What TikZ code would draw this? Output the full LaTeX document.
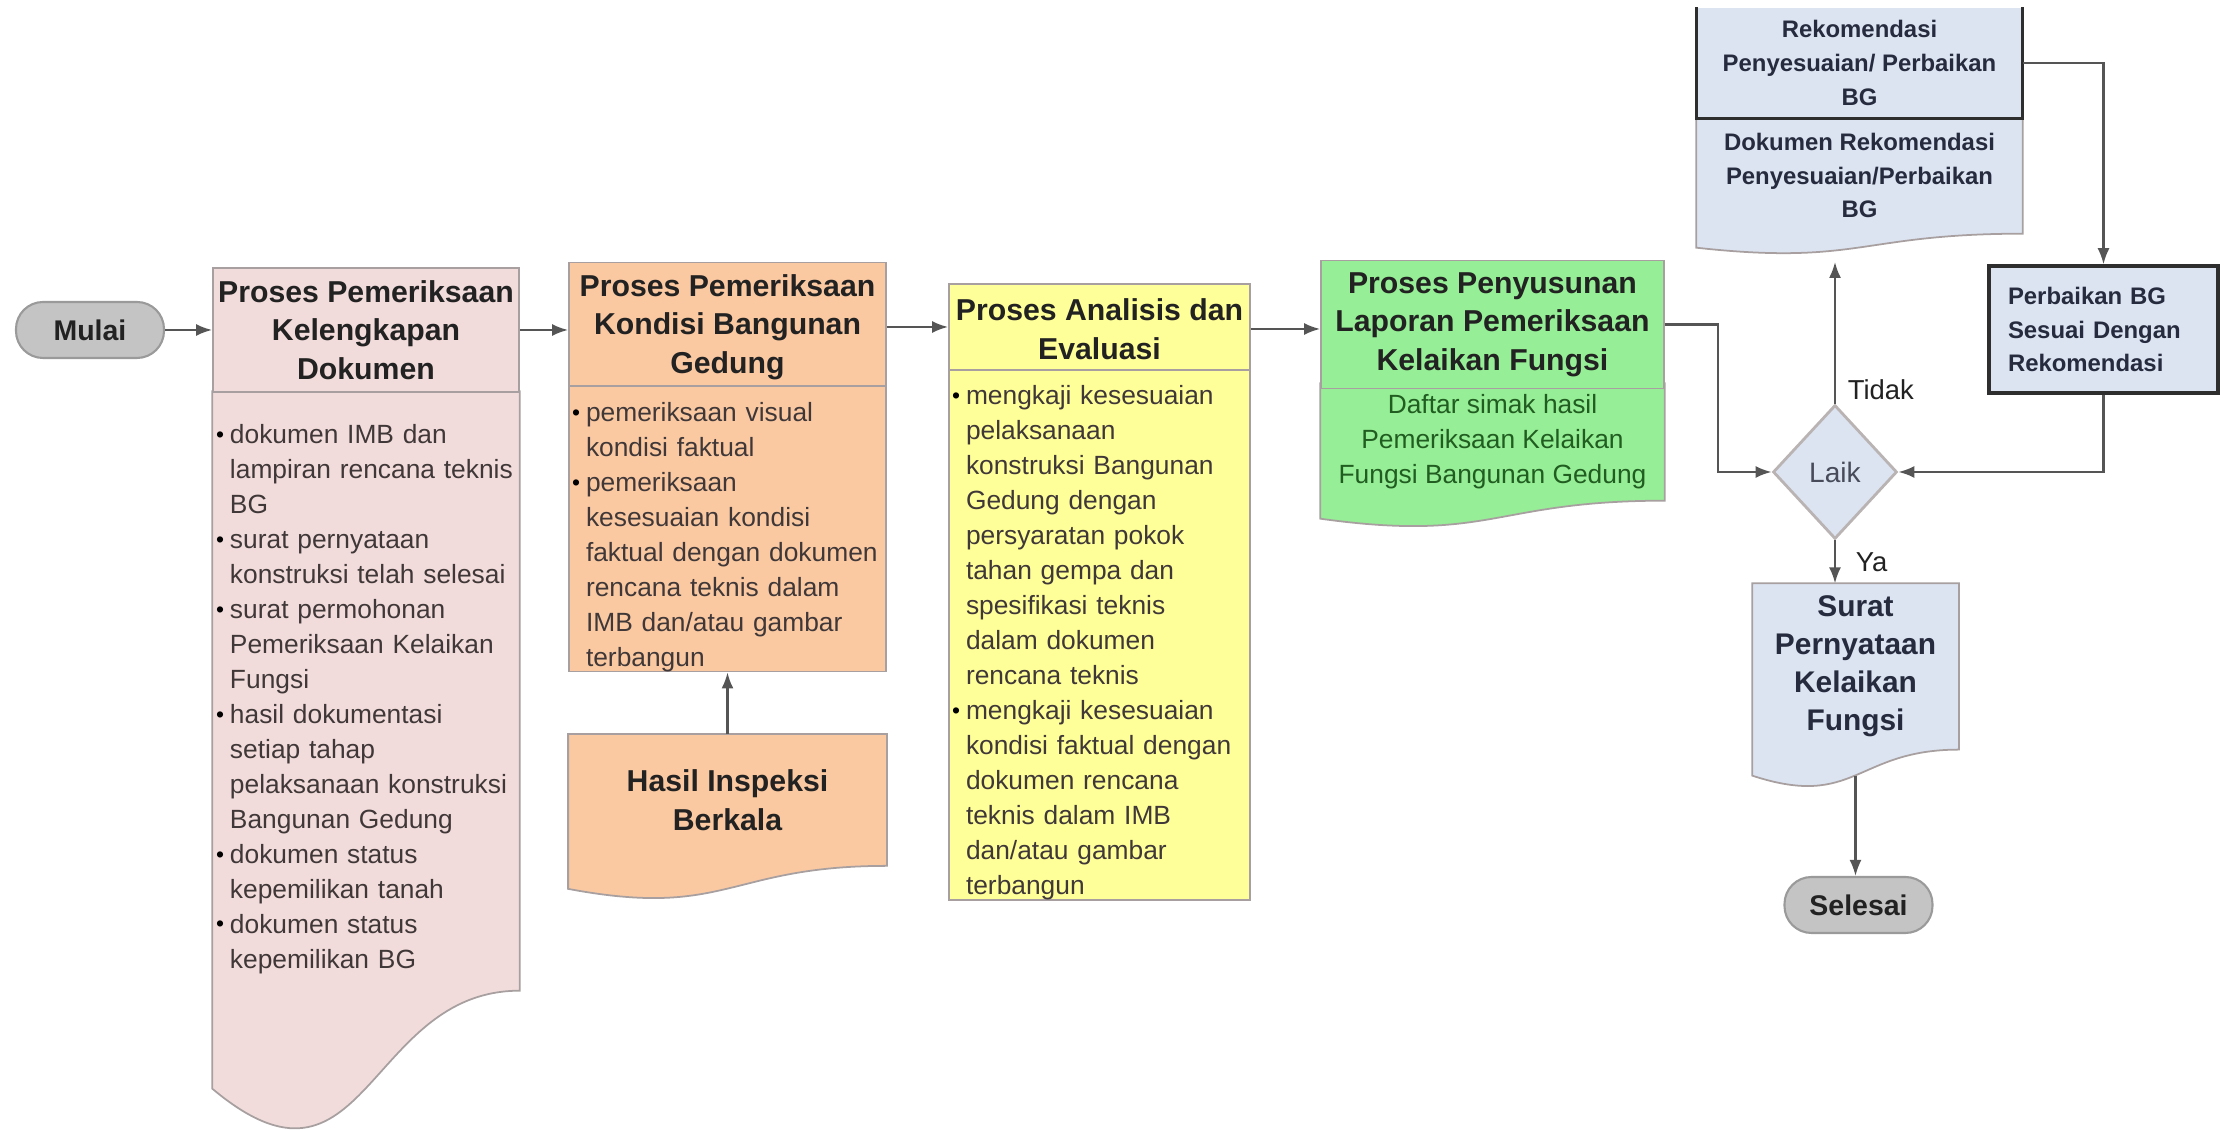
\documentclass[tikz,border=0pt]{standalone}
\usepackage{fontspec}
\setmainfont{Liberation Sans}
\usetikzlibrary{shapes.geometric,arrows.meta,backgrounds}
\definecolor{pinkfill}{HTML}{F2DCDB}
\definecolor{peachfill}{HTML}{FAC9A2}
\definecolor{yellowfill}{HTML}{FFFF99}
\definecolor{greenfill}{HTML}{96EE96}
\definecolor{bluefill}{HTML}{DCE4F2}
\definecolor{termfill}{HTML}{C4C4C4}
\definecolor{termline}{HTML}{9A9A9A}
\definecolor{boxline}{HTML}{A8A0A0}
\definecolor{arrowline}{HTML}{555555}
\definecolor{darkline}{HTML}{2E2E2E}
\definecolor{textdark}{HTML}{222222}
\definecolor{textbody}{HTML}{403838}
\definecolor{textgreen}{HTML}{215C21}
\definecolor{textblue}{HTML}{262B3D}
\newcommand{\itm}{\par\hangindent=0.14cm\noindent\makebox[0.14cm][l]{\raisebox{0.3pt}{\fontsize{6.5}{6.5}\selectfont\color{black}\textbullet}}}

\begin{document}
\begin{tikzpicture}[>={Latex[length=1.6mm,width=1.2mm]},
  term/.style={rectangle, rounded corners=0.27cm, fill=termfill, draw=termline, line width=0.6pt,
    minimum width=1.48cm, minimum height=0.56cm, inner sep=0pt, font=\fontsize{8.1}{9}\selectfont\bfseries, text=textdark},
  title/.style={rectangle, draw=boxline, line width=0.5pt, inner xsep=0pt, align=center,
    font=\fontsize{8.6}{11}\selectfont\bfseries, text=textdark},
  body/.style={rectangle, inner xsep=0.03cm, inner ysep=0pt, align=left,
    font=\fontsize{7.5}{9.95}\selectfont, text=textbody},
  small/.style={rectangle, inner sep=0pt, align=center, font=\fontsize{6.8}{9.6}\selectfont\bfseries, text=textblue},
  docline/.style={draw=boxline, line width=0.5pt},
  flow/.style={->, draw=arrowline, line width=0.6pt},
  lbl/.style={font=\fontsize{7.8}{9}\selectfont, text=textdark}]
  \useasboundingbox (0,0) rectangle (22.3,-11.3);

  % start
  \node[term] (Mulai) at (0.90,-3.30) {Mulai};

  % kelengkapan dokumen
  \node[title, fill=pinkfill, minimum width=3.06cm, minimum height=1.24cm] (Kel) at (3.66,-3.30)
    {Proses Pemeriksaan\\ Kelengkapan\\ Dokumen};
  \node[body, text width=3.00cm, minimum width=3.06cm, minimum height=5.98cm] (KelIsi) at (3.66,-6.91) {%
    \itm dokumen IMB dan\newline lampiran rencana teknis\newline BG
    \itm surat pernyataan\newline konstruksi telah selesai
    \itm surat permohonan\newline Pemeriksaan Kelaikan\newline Fungsi
    \itm hasil dokumentasi\newline setiap tahap\newline pelaksanaan konstruksi\newline Bangunan Gedung
    \itm dokumen status\newline kepemilikan tanah
    \itm dokumen status\newline kepemilikan BG\par};

  % kondisi bangunan gedung
  \node[title, fill=peachfill, minimum width=3.17cm, minimum height=1.20cm] (Kon) at (7.275,-3.27)
    {Proses Pemeriksaan\\ Kondisi Bangunan\\ Gedung};
  \node[body, draw=boxline, line width=0.5pt, fill=peachfill, text width=3.11cm,
    minimum width=3.17cm, minimum height=2.84cm] (KonIsi) at (7.275,-5.29) {%
    \itm pemeriksaan visual\newline kondisi faktual
    \itm pemeriksaan\newline kesesuaian kondisi\newline faktual dengan dokumen\newline rencana teknis dalam\newline IMB dan/atau gambar\newline terbangun\par};
  \node[title, draw=none, minimum width=3.17cm, minimum height=1.30cm] (Insp) at (7.275,-8.00)
    {Hasil Inspeksi\\ Berkala};

  % analisis dan evaluasi
  \node[title, fill=yellowfill, minimum width=3.01cm, minimum height=0.90cm] (Ana) at (10.995,-3.29)
    {Proses Analisis dan\\ Evaluasi};
  \node[body, draw=boxline, line width=0.5pt, fill=yellowfill, text width=2.95cm,
    minimum width=3.01cm, minimum height=5.22cm] (AnaIsi) at (10.995,-6.35) {%
    \itm mengkaji kesesuaian\newline pelaksanaan\newline konstruksi Bangunan\newline Gedung dengan\newline persyaratan pokok\newline tahan gempa dan\newline spesifikasi teknis\newline dalam dokumen\newline rencana teknis
    \itm mengkaji kesesuaian\newline kondisi faktual dengan\newline dokumen rencana\newline teknis dalam IMB\newline dan/atau gambar\newline terbangun\par};

  % laporan
  \node[title, fill=greenfill, minimum width=3.43cm, minimum height=1.19cm] (Lap) at (14.925,-3.245)
    {Proses Penyusunan\\ Laporan Pemeriksaan\\ Kelaikan Fungsi};
  \node[body, align=center, text=textgreen, minimum width=3.43cm, minimum height=1.16cm] (LapIsi) at (14.925,-4.42)
    {Daftar simak hasil\\ Pemeriksaan Kelaikan\\ Fungsi Bangunan Gedung};

  % rekomendasi
  \node[small, fill=bluefill, minimum width=3.25cm, minimum height=1.10cm] (Rek) at (18.595,-0.63)
    {Rekomendasi\\ Penyesuaian/ Perbaikan\\ BG};
  \draw[darkline, line width=1pt] (Rek.north west) -- (Rek.south west) -- (Rek.south east) -- (Rek.north east);
  \node[small, font=\fontsize{6.8}{9.5}\selectfont\bfseries, minimum width=3.25cm, minimum height=1.15cm] (Dok) at (18.595,-1.755)
    {Dokumen Rekomendasi\\ Penyesuaian/Perbaikan\\ BG};
  \node[small, draw=darkline, line width=1pt, fill=bluefill, align=left, text width=1.91cm, inner xsep=0.19cm,
    minimum height=1.27cm] (Perb) at (21.035,-3.295) {Perbaikan BG\\ Sesuai Dengan\\ Rekomendasi};

  % decision
  \node[diamond, fill=bluefill, draw=boxline!80, line width=0.8pt, minimum width=1.24cm, minimum height=1.34cm,
    inner sep=0pt, font=\fontsize{8}{9}\selectfont, text=textblue!85] (Laik) at (18.35,-4.72) {Laik};

  % result and end
  \node[title, draw=none, font=\fontsize{8.5}{10.8}\selectfont\bfseries, text=textblue,
    minimum width=2.05cm, minimum height=1.61cm] (Surat) at (18.555,-6.665) {Surat\\ Pernyataan\\ Kelaikan\\ Fungsi};
  \node[term] (Selesai) at (18.585,-9.05) {Selesai};

  % document bottoms
  \begin{scope}[on background layer]
    \draw[docline, fill=pinkfill] (KelIsi.north west) -- ([yshift=-0.98cm]KelIsi.south west)
      .. controls ([yshift=-2.27cm]KelIsi.south) and (KelIsi.south) .. (KelIsi.south east) -- (KelIsi.north east) -- cycle;
    \draw[docline, fill=peachfill] (Insp.north west) -- ([yshift=-0.23cm]Insp.south west)
      .. controls ([yshift=-0.53cm]Insp.south) and (Insp.south) .. (Insp.south east) -- (Insp.north east) -- cycle;
    \draw[docline, fill=greenfill] (LapIsi.north west) -- ([yshift=-0.18cm]LapIsi.south west)
      .. controls ([yshift=-0.42cm]LapIsi.south) and (LapIsi.south) .. (LapIsi.south east) -- (LapIsi.north east) -- cycle;
    \draw[docline, fill=bluefill] (Dok.north west) -- ([yshift=-0.14cm]Dok.south west)
      .. controls ([yshift=-0.32cm]Dok.south) and (Dok.south) .. (Dok.south east) -- (Dok.north east) -- cycle;
    \draw[docline, fill=bluefill] (Surat.north west) -- ([yshift=-0.26cm]Surat.south west)
      .. controls ([yshift=-0.60cm]Surat.south) and (Surat.south) .. (Surat.south east) -- (Surat.north east) -- cycle;
  \end{scope}

  % free ends under the documents
  \coordinate (DokB) at (18.35,-2.62);
  \coordinate (SuratB) at (18.555,-7.76);

  % arrows
  \draw[flow] (Mulai.east) -- (Mulai.east -| Kel.west);
  \draw[flow] (Kel.east) -- (Kel.east -| Kon.west);
  \draw[flow] (Kon.east) -- (Kon.east -| Ana.west);
  \draw[flow] (Ana.east) -- (Ana.east -| Lap.west);
  \draw[flow] (Insp.north) -- (KonIsi.south);
  \draw[flow] (Lap.east) -- ++(0.53,0) |- (Laik.west);
  \draw[flow] (Laik.north) -- node[lbl, right, pos=0.1] {Tidak} (DokB);
  \draw[flow] (Rek.east) -| (Perb.north);
  \draw[flow] (Perb.south) |- (Laik.east);
  \draw[flow] (Laik.south) -- node[lbl, right=0.08cm] {Ya} (Laik.south |- Surat.north);
  \draw[flow] (SuratB) -- (SuratB |- Selesai.north);
\end{tikzpicture}
\end{document}
